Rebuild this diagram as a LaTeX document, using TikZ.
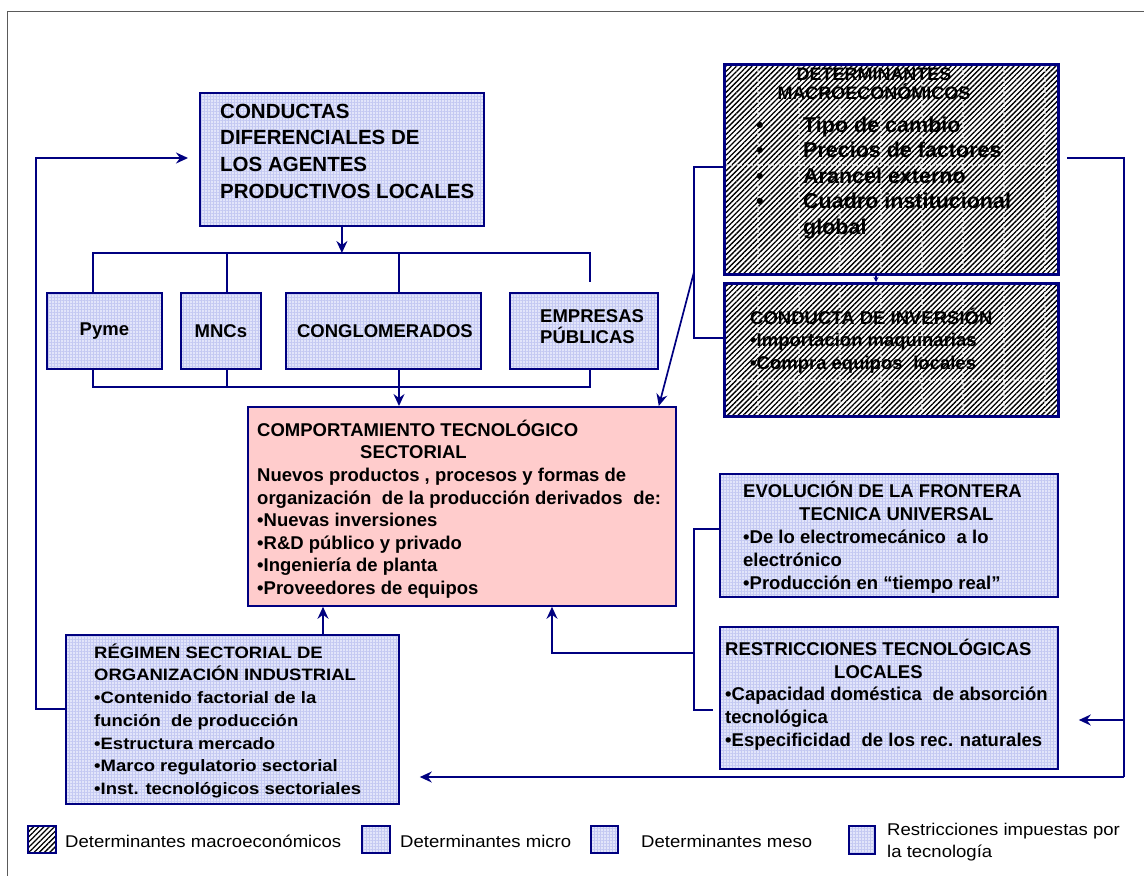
\documentclass[tikz,border=0pt]{standalone}
\usepackage{fontspec}
\setmainfont{Liberation Sans}
\newfontfamily\regfont[FakeStretch=1.12]{Liberation Sans}
\newfontfamily\legfont[FakeStretch=1.09]{Liberation Sans}
\usetikzlibrary{arrows.meta,patterns,patterns.meta,calc}
\definecolor{navy}{RGB}{0,0,128}
\definecolor{lav}{RGB}{226,229,250}
\definecolor{lavgrid}{RGB}{196,201,242}
\definecolor{pinkf}{RGB}{255,204,204}
\definecolor{framegray}{RGB}{90,90,90}
\newcommand\fst{\rule{0pt}{1.2em}}
\newcommand\dsp{\hspace{0.3em}}
\tikzset{
  ln/.style={draw=navy, line width=1.7pt},
  arr/.style={ln, -{Stealth[length=12pt,width=11pt,inset=4pt]}},
  bluebox/.style={preaction={fill=lav}, pattern={Hatch[angle=0,distance=3pt,line width=0.5pt]}, pattern color=lavgrid, draw=navy, line width=1.8pt, inner sep=0pt, anchor=north west},
  hatchbox/.style={preaction={fill=white}, pattern={Lines[angle=45,distance=3.7pt,line width=1.35pt]}, pattern color=black, draw=navy, line width=2.8pt, inner sep=0pt, anchor=north west},
  pinkbox/.style={fill=pinkf, draw=navy, line width=1.8pt, inner sep=0pt, anchor=north west},
  tb/.style={inner sep=0pt, anchor=north west, align=left},
  gridw/.style={draw=white, line width=1.1pt, opacity=0.6, dash pattern=on 2pt off 1.5pt},
}
\begin{document}
\begin{tikzpicture}[x=1pt,y=-1pt]
\useasboundingbox (0,0) rectangle (1144,876);
% frame
\draw[framegray, line width=1pt] (7,876) -- (7,11) -- (1144,11);

% ---------------- boxes
\node[bluebox, minimum width=284pt, minimum height=133pt] (cond) at (199,92) {};
\node[bluebox, minimum width=115pt, minimum height=76pt] (pyme) at (46,292) {};
\node[bluebox, minimum width=80pt, minimum height=76pt] (mnc) at (180,292) {};
\node[bluebox, minimum width=195pt, minimum height=76pt] (cong) at (285,292) {};
\node[bluebox, minimum width=148pt, minimum height=76pt] (emp) at (509,292) {};
\node[pinkbox, minimum width=428pt, minimum height=199pt] (comp) at (247,406) {};
\node[hatchbox, minimum width=334pt, minimum height=210pt] (macro) at (723,63) {};
\node[hatchbox, minimum width=334pt, minimum height=133pt] (inv) at (723,282) {};
\node[bluebox, minimum width=338pt, minimum height=123pt] (evo) at (719,473) {};
\node[bluebox, minimum width=338pt, minimum height=142pt] (restr) at (719,626) {};
\node[bluebox, minimum width=333pt, minimum height=169pt] (reg) at (65,634) {};

% white grid streaks on hatched boxes
\foreach \x in {758,799,840,881,922,963,1004,1045}{
  \draw[gridw] (\x,66) -- (\x,270);
  \draw[gridw] (\x,285) -- (\x,412);
}
\draw[gridw] (726,165) -- (1054,165);
\draw[gridw] (726,380) -- (1054,380);

% ---------------- texts
\node[tb, font={\bfseries\fontsize{20.5}{26.7}\selectfont}] (condT) at (220,93.4)
  {\fst CONDUCTAS\\DIFERENCIALES DE\\LOS AGENTES\\PRODUCTIVOS LOCALES};
\node[font={\bfseries\fontsize{18.5}{22}\selectfont}] (pymeT) at (pyme.center) {Pyme};
\node[font={\bfseries\fontsize{18.5}{22}\selectfont}] (mncT) at (mnc.center) {MNCs};
\node[font={\bfseries\fontsize{18.5}{22}\selectfont}] (congT) at ($(cong.center)+(1.5,0)$) {CONGLOMERADOS};
\node[tb, font={\bfseries\fontsize{18.5}{21.5}\selectfont}] (empT) at (540,299.8)
  {\fst EMPRESAS\\PÚBLICAS};
\node[tb, font={\bfseries\fontsize{18.5}{22.6}\selectfont}] (compT) at (257,413.8)
  {\fst COMPORTAMIENTO TECNOLÓGICO\\
   \hspace*{103pt}SECTORIAL\\
   Nuevos productos , procesos y formas de\\
   organización\dsp{} de la producción derivados\dsp{} de:\\
   •Nuevas inversiones\\
   •R\&D público y privado\\
   •Ingeniería de planta\\
   •Proveedores de equipos};
\node[font={\bfseries\fontsize{18}{19.5}\selectfont}, align=center, inner sep=0pt, anchor=north] (macroH) at (874,58.4)
  {\fst DETERMINANTES\\MACROECONÓMICOS};
\node[tb, font={\bfseries\fontsize{21.5}{25.5}\selectfont}] (macroB) at (756,106.2)
  {\fst •\\•\\•\\•};
\node[tb, font={\bfseries\fontsize{21.5}{25.5}\selectfont}] (macroT) at (803,106.2)
  {\fst Tipo de cambio\\
   Precios de factores\\
   Arancel externo\\
   Cuadro institucional\\
   global};
\node[tb, font={\bfseries\fontsize{18.5}{22.7}\selectfont}] (invT) at (750,301.8)
  {\fst CONDUCTA DE INVERSIÓN\\•Importación maquinarias\\•Compra equipos\dsp{} locales};
\node[tb, font={\bfseries\fontsize{18.5}{23}\selectfont}] (evoT) at (743,474.8)
  {\fst EVOLUCIÓN DE LA FRONTERA\\
   \hspace*{56pt}TECNICA UNIVERSAL\\
   •De lo electromecánico\dsp{} a lo\\
   electrónico\\
   •Producción en “tiempo real”};
\node[tb, font={\bfseries\fontsize{18.5}{22.8}\selectfont}] (restrT) at (725,632.8)
  {\fst RESTRICCIONES TECNOLÓGICAS\\
   \hspace*{109pt}LOCALES\\
   •Capacidad doméstica\dsp{} de absorción\\
   tecnológica\\
   •Especificidad\dsp{} de los rec. naturales};
\node[tb, font={\regfont\bfseries\fontsize{16.5}{22.7}\selectfont}] (regT) at (94,638.2)
  {\fst RÉGIMEN SECTORIAL DE\\
   ORGANIZACIÓN INDUSTRIAL\\
   •Contenido factorial de la\\
   función\dsp{} de producción\\
   •Estructura mercado\\
   •Marco regulatorio sectorial\\
   •Inst. tecnológicos sectoriales};

% ---------------- connectors
\coordinate (busL) at (93,253);
\coordinate (busR) at (590,253);
\coordinate (bus2) at (227,253);
\coordinate (bus3) at (399,253);
\draw[arr] (cond.south) -- (cond.south |- busL);
\draw[ln] (busL |- pyme.north) -- (busL) -- (busR) -- ++(0,29);
\draw[ln] (bus2) -- (bus2 |- mnc.north);
\draw[ln] (bus3) -- (bus3 |- cong.north);

\coordinate (bbL) at (93,387);
\coordinate (bbR) at (590,387);
\coordinate (bb2) at (227,387);
\coordinate (bb3) at (399,387);
\draw[ln] (bbL |- pyme.south) -- (bbL) -- (bbR) -- (bbR |- emp.south);
\draw[ln] (bb2 |- mnc.south) -- (bb2);
\draw[ln] (bb3 |- cong.south) -- (bb3);
\draw[arr] (bb3) -- (bb3 |- comp.north);

% macro left bracket and diagonal
\coordinate (ml) at (694,167);
\coordinate (mlb) at (694,338);
\coordinate (dg) at (694,272);
\draw[ln] (ml -| macro.west) -- (ml) -- (mlb) -- (mlb -| inv.west);
\draw[arr] (dg) -- ($(comp.north east)+(-18,0)$);
% small link between macro boxes
\coordinate (tk) at (876,273);
\draw[navy, line width=1.2pt, -{Stealth[length=5pt,width=5pt]}] (tk) -- (tk |- inv.north);

% right loop
\coordinate (r0) at (1067,158);
\coordinate (r1) at (1124,158);
\coordinate (r2) at (1124,777);
\coordinate (r3) at (1124,720);
\draw[ln] (r0) -- (r1) -- (r2);
\draw[arr] (r2) -- ($(reg.east |- r2)+(20,0)$);
\draw[arr] (r3) -- ($(restr.east |- r3)+(20,0)$);

% technology bracket
\coordinate (tl) at (694,529);
\coordinate (tlb) at (694,710);
\coordinate (tm) at (694,653);
\coordinate (tm2) at (552,653);
\draw[ln] (tl -| evo.west) -- (tl) -- (tlb) -- ($(tlb -| restr.west)+(-6,0)$);
\draw[arr] (tm) -- (tm2) -- (tm2 |- comp.south);

% regimen up and feedback
\coordinate (ru) at (323,634);
\draw[arr] (ru) -- (ru |- comp.south);
\coordinate (fl) at (36,709);
\coordinate (ft) at (36,158);
\draw[arr] (fl -| reg.west) -- (fl) -- (ft) -- ($(ft -| cond.west)+(-11,0)$);

% ---------------- legend
\node[hatchbox, line width=2pt, minimum width=28pt, minimum height=27pt] (leg1) at (27,825) {};
\node[bluebox, minimum width=28pt, minimum height=27pt] (leg2) at (361,825) {};
\node[bluebox, minimum width=27pt, minimum height=27pt] (leg3) at (590,825) {};
\node[bluebox, minimum width=26pt, minimum height=28pt] (leg4) at (848,825) {};
\node[tb, font={\legfont\fontsize{17}{22}\selectfont}] (leg1T) at (65,826.6) {\fst Determinantes macroeconómicos};
\node[tb, font={\legfont\fontsize{17}{22}\selectfont}] (leg2T) at (400,826.6) {\fst Determinantes micro};
\node[tb, font={\legfont\fontsize{17}{22}\selectfont}] (leg3T) at (641,826.6) {\fst Determinantes meso};
\node[tb, font={\legfont\fontsize{17}{22}\selectfont}] (leg4T) at (887,814.6) {\fst Restricciones impuestas por\\la tecnología};
\end{tikzpicture}
\end{document}
